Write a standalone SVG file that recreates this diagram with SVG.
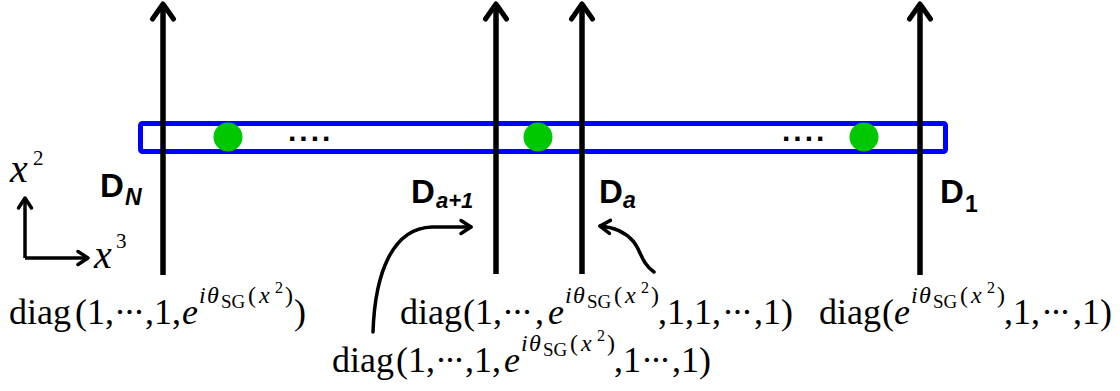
<svg xmlns="http://www.w3.org/2000/svg" width="1120" height="391" viewBox="0 0 1120 391">
<style>
.bg{fill:#ffffff}
.dline{stroke:#000;stroke-width:5.5;fill:none}
.curve{stroke:#000;stroke-width:3.5;fill:none;stroke-linecap:round}
.axis{stroke:#000;stroke-width:3.5;fill:none}
.band{fill:none;stroke:#0000ff;stroke-width:5}
.dot{fill:#00c800}
.lbl{font-family:"Liberation Sans",Arial,sans-serif;font-weight:bold;fill:#000}
.sub{font-family:"Liberation Sans",Arial,sans-serif;font-weight:bold;font-style:italic;fill:#000}
.ell{font-family:"Liberation Sans",Arial,sans-serif;font-weight:bold;font-size:30px;letter-spacing:3px;fill:#000}
.m{font-family:"Liberation Serif","Times New Roman",serif;font-size:36px;fill:#000}
.mi{font-family:"Liberation Serif","Times New Roman",serif;font-style:italic;fill:#000}
.ms{font-family:"Liberation Serif","Times New Roman",serif;fill:#000}
</style>
<defs>
<marker id="bigHead" markerUnits="userSpaceOnUse" markerWidth="40" markerHeight="40" viewBox="-20 -20 40 40" refX="0" refY="0" orient="auto" overflow="visible">
<path d="M-15,-10.5 L0,0 L-15,10.5" fill="none" stroke="#000" stroke-width="5" stroke-linecap="round" stroke-linejoin="round"/>
</marker>
<marker id="smallHead" markerUnits="userSpaceOnUse" markerWidth="30" markerHeight="30" viewBox="-15 -15 30 30" refX="0" refY="0" orient="auto" overflow="visible">
<path d="M-10,-6.5 L0,0 L-10,6.5" fill="none" stroke="#000" stroke-width="3.5" stroke-linecap="round" stroke-linejoin="round"/>
</marker>
<g id="expo">
<text class="mi" x="0" y="0" font-size="36">e</text>
<text class="mi" x="17" y="-21" font-size="24">i</text>
<text class="mi" x="25" y="-21" font-size="24">θ</text>
<text class="ms" x="39" y="-16" font-size="19">SG</text>
<text class="ms" x="66" y="-21" font-size="24">(</text>
<text class="mi" x="77" y="-21" font-size="24">x</text>
<text class="ms" x="93" y="-31" font-size="16">2</text>
<text class="ms" x="103" y="-21" font-size="24">)</text>
</g>
</defs>
<rect class="bg" x="0" y="0" width="1120" height="391"/>

<g id="band">
<rect class="band" x="140.5" y="123.5" width="805" height="28" rx="2"/>
<circle class="dot" cx="228" cy="137" r="14.5"/>
<circle class="dot" cx="538" cy="137" r="14.5"/>
<circle class="dot" cx="864" cy="137" r="14.5"/>
<text class="ell" x="288" y="141">....</text>
<text class="ell" x="782" y="141">....</text>
</g>

<g id="connectors">
<line class="dline" x1="163" y1="275" x2="163" y2="4" marker-end="url(#bigHead)"/>
<line class="dline" x1="496" y1="274" x2="496" y2="4" marker-end="url(#bigHead)"/>
<line class="dline" x1="582" y1="274" x2="582" y2="4" marker-end="url(#bigHead)"/>
<line class="dline" x1="920" y1="275" x2="920" y2="4" marker-end="url(#bigHead)"/>
<path class="curve" d="M373,332 C375,272 393,228 432,227 L471,227" marker-end="url(#smallHead)"/>
<path class="curve" d="M654,272 C641,263 641,250 633,241 C625,232 612,227 600,226" marker-end="url(#smallHead)"/>
<path class="axis" d="M25,258 L25,198" marker-end="url(#smallHead)"/>
<path class="axis" d="M25,258 L88,258" marker-end="url(#smallHead)"/>
</g>

<g id="axes-labels">
<text class="mi" x="10" y="182" font-size="40">x</text>
<text class="ms" x="33" y="165" font-size="21">2</text>
<text class="mi" x="94" y="268" font-size="40">x</text>
<text class="ms" x="116" y="248" font-size="21">3</text>
</g>

<g id="node-DN">
<text class="lbl" x="100" y="197" font-size="33">D</text>
<text class="sub" x="125" y="205" font-size="23">N</text>
</g>
<g id="node-Da1">
<text class="lbl" x="411" y="203" font-size="33">D</text>
<text class="sub" x="436" y="208" font-size="22">a+1</text>
</g>
<g id="node-Da">
<text class="lbl" x="599" y="203" font-size="33">D</text>
<text class="sub" x="623" y="208" font-size="23">a</text>
</g>
<g id="node-D1">
<text class="lbl" x="940" y="203" font-size="33">D</text>
<text class="lbl" x="965" y="212" font-size="23">1</text>
</g>

<g id="label-N">
<text class="m" x="9" y="324">diag</text>
<text class="m" x="75" y="324">(</text>
<text class="m" x="87" y="324">1,</text>
<text class="m" x="114" y="324" textLength="31" lengthAdjust="spacing">···</text>
<text class="m" x="145" y="324">,1,</text>
<use href="#expo" x="182" y="324"/>
<text class="m" x="294" y="324">)</text>
</g>

<g id="label-a">
<text class="m" x="400" y="324">diag</text>
<text class="m" x="463" y="324">(</text>
<text class="m" x="475" y="324">1,</text>
<text class="m" x="502" y="324" textLength="31" lengthAdjust="spacing">···</text>
<text class="m" x="535" y="324">,</text>
<use href="#expo" x="548" y="324"/>
<text class="m" x="658" y="324">,1,1,</text>
<text class="m" x="722" y="324" textLength="31" lengthAdjust="spacing">···</text>
<text class="m" x="754" y="324">,1)</text>
</g>

<g id="label-a1">
<text class="m" x="332" y="372">diag</text>
<text class="m" x="396" y="372">(</text>
<text class="m" x="408" y="372">1,</text>
<text class="m" x="435" y="372" textLength="30" lengthAdjust="spacing">···</text>
<text class="m" x="465" y="372">,1,</text>
<use href="#expo" x="504" y="372"/>
<text class="m" x="614" y="372">,1</text>
<text class="m" x="641" y="372" textLength="30" lengthAdjust="spacing">···</text>
<text class="m" x="672" y="372">,1)</text>
</g>

<g id="label-1">
<text class="m" x="819" y="324">diag</text>
<text class="m" x="882" y="324">(</text>
<use href="#expo" x="894" y="324"/>
<text class="m" x="1004" y="324">,1,</text>
<text class="m" x="1041" y="324" textLength="30" lengthAdjust="spacing">···</text>
<text class="m" x="1073" y="324">,1)</text>
</g>
</svg>
